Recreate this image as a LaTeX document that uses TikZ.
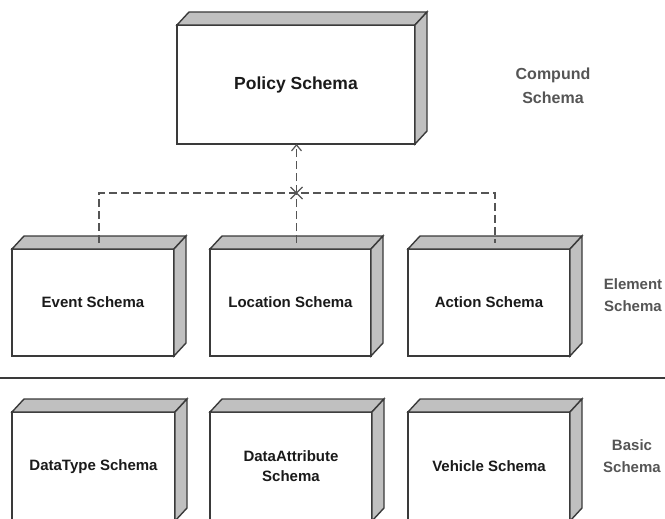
\documentclass[tikz,border=0pt]{standalone}
\usepackage{fontspec}
\setmainfont{Liberation Sans}
\usetikzlibrary{calc,arrows.meta}
\definecolor{edgec}{HTML}{3A3A3A}
\definecolor{slabc}{HTML}{C0C0C0}
\definecolor{txtc}{HTML}{1A1A1A}
\definecolor{lblc}{HTML}{555555}
\definecolor{dashc}{HTML}{555555}
\newcommand{\boxslabs}[1]{%
  \draw[slabface] (#1.north west) -- ++(12,-13) -- ($(#1.north east)+(12,-13)$) -- (#1.north east) -- cycle;
  \draw[slabface] (#1.north east) -- ++(12,-13) -- ($(#1.south east)+(12,-13)$) -- (#1.south east) -- cycle;}
\begin{document}
\begin{tikzpicture}[x=1pt,y=-1pt,
  schemabox/.style={draw=edgec, fill=white, line width=1.4pt, outer sep=0pt, inner sep=2pt,
    text=txtc, font=\bfseries\fontsize{15}{20}\selectfont, align=center},
  slabface/.style={draw=edgec, fill=slabc, line width=1.4pt, line join=miter},
  layerlabel/.style={text=lblc, align=center},
  conn/.style={draw=dashc, line width=1.3pt, dash pattern=on 8pt off 4pt}]
\useasboundingbox (0,0) rectangle (665,519);
% top
\node[schemabox, minimum width=238pt, minimum height=119pt, font=\bfseries\fontsize{17.5}{21}\selectfont] (policy) at (296,84.5) {Policy Schema};
\boxslabs{policy}
% element row
\node[schemabox, minimum width=162pt, minimum height=107pt] (event) at (93,302.5) {Event Schema};
\node[schemabox, minimum width=161pt, minimum height=107pt] (location) at (290.5,302.5) {Location Schema};
\node[schemabox, minimum width=162pt, minimum height=107pt] (action) at (489,302.5) {Action Schema};
\boxslabs{event}\boxslabs{location}\boxslabs{action}
% basic row
\node[schemabox, minimum width=163pt, minimum height=109pt] (datatype) at (93.5,466.5) {DataType Schema};
\node[schemabox, minimum width=162pt, minimum height=109pt] (dataattr) at (291,466.5) {DataAttribute\\Schema};
\node[schemabox, minimum width=162pt, minimum height=109pt] (vehicle) at (489,466.5) {Vehicle Schema};
\boxslabs{datatype}\boxslabs{dataattr}\boxslabs{vehicle}
% separator
\coordinate (sepl) at (0,378);
\coordinate (sepr) at (665,378);
\draw[draw=edgec, line width=1.2pt] (sepl) -- (sepr);
% connectors
\coordinate (ev) at ($(event.north)+(6,-6)$);
\coordinate (lo) at ($(location.north)+(6,-6)$);
\coordinate (ac) at ($(action.north)+(6,-6)$);
\coordinate (jy) at (0,193);
\coordinate (jn) at (lo |- jy);
\draw[conn] (ev) -- (ev |- jn) -- (ac |- jn) -- (ac);
\draw[conn] (lo) -- (jn);
\draw[conn, -{Straight Barb[length=6pt,width=10pt,line width=1.2pt]}] (jn) -- (policy.south -| lo);
\draw[draw=dashc, line width=1.2pt] ($(jn)+(-6,-6)$) -- ($(jn)+(6,6)$) ($(jn)+(-6,6)$) -- ($(jn)+(6,-6)$);
% layer labels
\node[layerlabel, font=\bfseries\fontsize{16}{24}\selectfont] (compund) at (553,86) {Compund\\Schema};
\node[layerlabel, font=\bfseries\fontsize{15}{22}\selectfont] (element) at (633,295) {Element\\Schema};
\node[layerlabel, font=\bfseries\fontsize{15}{22}\selectfont] (basic) at (632,456) {Basic\\Schema};
\end{tikzpicture}
\end{document}
